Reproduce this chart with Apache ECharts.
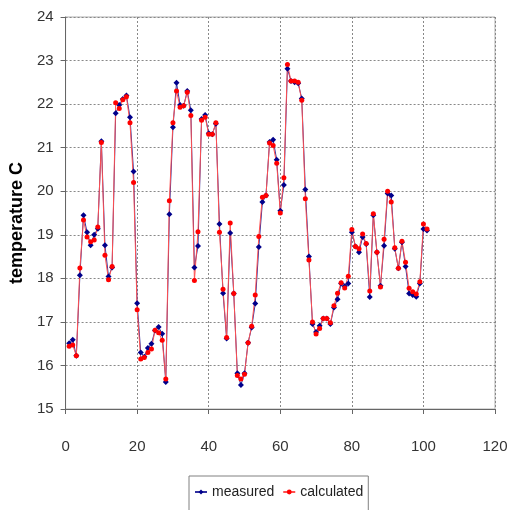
<!DOCTYPE html>
<html>
<head>
<meta charset="utf-8">
<script src="https://cdn.jsdelivr.net/npm/echarts@6/dist/echarts.min.js"></script>
<style>
html,body{margin:0;padding:0;background:#fff;}
#c{width:512px;height:510px;}
</style>
</head>
<body>
<div id="c"></div>
<script>
const xValues = Array.from({length: 101}, (_, i) => i + 1);
const measured = [
16.51,16.59,16.22,18.07,19.45,19.06,18.76,19.0,19.14,21.15,
18.76,18.04,18.25,21.79,21.98,22.12,22.2,21.7,20.45,17.43,
16.3,16.2,16.4,16.5,16.8,16.88,16.73,15.62,19.47,21.47,
22.49,21.98,21.96,22.3,21.86,18.25,18.74,21.66,21.75,21.33,
21.31,21.55,19.25,17.66,16.62,19.04,17.65,15.82,15.55,15.82,
16.52,16.87,17.42,18.72,19.75,19.9,21.13,21.18,20.72,19.55,
20.14,22.81,22.53,22.5,22.48,22.13,20.04,18.5,16.95,16.77,
16.91,17.08,17.08,16.95,17.33,17.52,17.88,17.82,17.88,19.06,
18.73,18.6,18.95,18.79,17.57,19.45,18.6,17.83,18.75,19.95,
19.9,18.68,18.23,18.83,18.27,17.65,17.62,17.58,17.88,19.13,19.1];
const calculated = [
16.44,16.47,16.22,18.24,19.34,18.95,18.84,18.88,19.18,21.12,
18.53,17.97,18.27,22.03,21.9,22.1,22.17,21.57,20.2,17.28,
16.15,16.18,16.3,16.38,16.81,16.75,16.58,15.69,19.78,21.57,
22.3,21.93,21.96,22.27,21.74,17.95,19.07,21.63,21.7,21.31,
21.31,21.57,19.06,17.75,16.64,19.27,17.65,15.77,15.69,15.8,
16.52,16.9,17.62,18.96,19.86,19.9,21.11,21.05,20.64,19.5,
20.31,22.91,22.53,22.53,22.5,22.09,19.83,18.42,17.0,16.72,
16.85,17.08,17.08,16.98,17.37,17.66,17.9,17.78,18.05,19.12,
18.73,18.68,19.02,18.8,17.71,19.48,18.6,17.8,18.9,20.0,
19.75,18.7,18.23,18.85,18.37,17.77,17.69,17.64,17.92,19.25,19.13];
const seriesNames = ['measured', 'calculated'];
const yAxisName = 'temperature C';

const FONT = "'Liberation Sans', Arial, sans-serif";
const chart = echarts.init(document.getElementById('c'), null, {renderer: 'canvas'});
const pairs = arr => arr.map((v, i) => [xValues[i], v]);
chart.setOption({
  animation: false,
  backgroundColor: '#ffffff',
  grid: {left: 65, right: 17, top: 17, bottom: 101, show: true, borderColor: '#b0b0b0', borderWidth: 1},
  legend: {
    left: 189, top: 476,
    data: seriesNames,
    borderColor: '#808080', borderWidth: 1,
    padding: [9, 5, 14, 5],
    itemWidth: 12, itemHeight: 6, itemGap: 8,
    textStyle: {fontFamily: FONT, fontSize: 14, color: '#222'}
  },
  xAxis: {
    type: 'value', min: 0, max: 120, interval: 20,
    axisLine: {show: true, lineStyle: {color: '#666', width: 1}},
    axisTick: {show: true, length: 5, lineStyle: {color: '#666'}},
    axisLabel: {margin: 30, fontFamily: FONT, fontSize: 15, color: '#333'},
    splitLine: {show: true, lineStyle: {color: '#888', type: [2, 2], width: 1}}
  },
  yAxis: {
    type: 'value', min: 15, max: 24, interval: 1,
    name: yAxisName, nameLocation: 'middle', nameGap: 27, nameRotate: 90,
    nameTextStyle: {fontFamily: FONT, fontWeight: 'bold', fontSize: 18, color: '#000', padding: [0, 20, 0, 0]},
    axisLine: {show: true, lineStyle: {color: '#666', width: 1}},
    axisTick: {show: true, length: 5, lineStyle: {color: '#666'}},
    axisLabel: {margin: 12, fontFamily: FONT, fontSize: 15, color: '#333'},
    splitLine: {show: true, lineStyle: {color: '#888', type: [2, 2], width: 1}}
  },
  series: [
    {
      name: seriesNames[0], type: 'line', data: pairs(measured),
      symbol: 'diamond', symbolSize: 6, showAllSymbol: true,
      itemStyle: {color: '#00008b'},
      lineStyle: {color: '#3030a0', width: 1}
    },
    {
      name: seriesNames[1], type: 'line', data: pairs(calculated),
      symbol: 'circle', symbolSize: 5, showAllSymbol: true,
      itemStyle: {color: '#ff0000'},
      lineStyle: {color: '#ff5050', width: 1}
    }
  ]
});
</script>
</body>
</html>
